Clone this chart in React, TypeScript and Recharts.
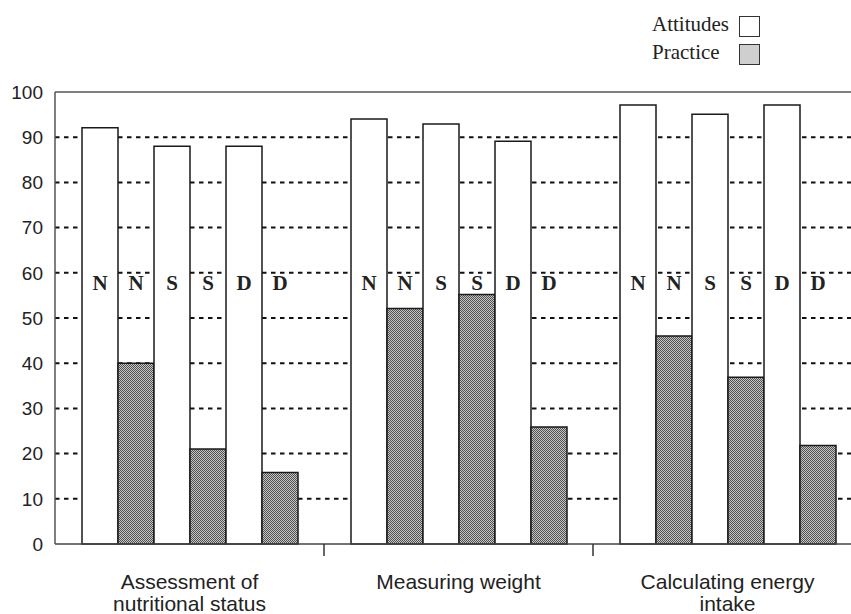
import React from 'react';
import {
  BarChart,
  Bar,
  XAxis,
  YAxis,
  CartesianGrid,
  ReferenceLine,
  LabelList,
} from 'recharts';

// Categories, split into the lines they are printed on
const categoryLines = [
  ['Assessment of', 'nutritional status'],
  ['Measuring weight'],
  ['Calculating energy', 'intake'],
];

// Attitudes / Practice per group (N, S, D)
const attitudesN = [92.1, 94.0, 97.1];
const practiceN = [40.0, 52.1, 46.0];
const attitudesS = [88.0, 92.9, 95.1];
const practiceS = [21.0, 55.2, 36.9];
const attitudesD = [88.0, 89.1, 97.1];
const practiceD = [15.8, 25.9, 21.8];

const yTicks = [0, 10, 20, 30, 40, 50, 60, 70, 80, 90, 100];
const gridValues = [10, 20, 30, 40, 50, 60, 70, 80, 90];
const letterLevel = 56.2;

const legendItems = [
  { name: 'Attitudes', fill: '#ffffff' },
  { name: 'Practice', fill: '#cfcfcf' },
];

const series = [
  { key: 'attN', letter: 'N', practice: false },
  { key: 'pracN', letter: 'N', practice: true },
  { key: 'attS', letter: 'S', practice: false },
  { key: 'pracS', letter: 'S', practice: true },
  { key: 'attD', letter: 'D', practice: false },
  { key: 'pracD', letter: 'D', practice: true },
];

const chartData = categoryLines.map((lines, i) => ({
  name: lines.join(' '),
  attN: attitudesN[i],
  pracN: practiceN[i],
  attS: attitudesS[i],
  pracS: practiceS[i],
  attD: attitudesD[i],
  pracD: practiceD[i],
}));

const SANS = "'Liberation Sans', Arial, Helvetica, sans-serif";
const SERIF = "'Liberation Serif', 'Times New Roman', Times, serif";

const CHART_W = 870;
const CHART_H = 614;
const MARGIN = { top: 92, right: 8, left: 0, bottom: 0 };
const Y_AXIS_W = 55;

const CategoryTick = (props: any) => {
  const { x, y, payload, index } = props;
  const idx = payload?.index ?? index ?? 0;
  const lines = categoryLines[idx] || [String(payload?.value ?? '')];
  const half =
    payload?.offset ??
    (CHART_W - MARGIN.left - MARGIN.right - Y_AXIS_W) / categoryLines.length / 2;
  return (
    <g>
      {idx > 0 && (
        <line x1={x - half} x2={x - half} y1={y} y2={y + 12} stroke="#333" strokeWidth={1.5} />
      )}
      {lines.map((line, li) => (
        <text
          key={li}
          x={x}
          y={y + 45 + li * 22}
          textAnchor="middle"
          fontFamily={SANS}
          fontSize={21}
          fill="#222"
        >
          {line}
        </text>
      ))}
    </g>
  );
};

// letter sits at a fixed value level inside / above each bar
const renderLetter = (letter: string) => (props: any) => {
  const box = props.viewBox && props.viewBox.height !== undefined ? props.viewBox : props;
  const { x, y, width, height } = box;
  const value = Number(props.value);
  if (!value || height === undefined) return null;
  const bottom = y + height;
  const ly = bottom - (letterLevel / value) * height;
  return (
    <text
      x={x + width / 2}
      y={ly}
      textAnchor="middle"
      fontFamily={SERIF}
      fontWeight="bold"
      fontSize={21}
      fill="#222"
    >
      {letter}
    </text>
  );
};

export default function App() {
  return (
    <div
      style={{
        position: 'fixed',
        left: 0,
        top: 0,
        width: 851,
        height: 614,
        overflow: 'hidden',
        background: '#fff',
      }}
    >
      <BarChart
        width={CHART_W}
        height={CHART_H}
        data={chartData}
        margin={MARGIN}
        barGap={0}
        barSize={36}
      >
        <defs>
          <pattern id="practiceHatch" width="2" height="2" patternUnits="userSpaceOnUse">
            <rect width="2" height="2" fill="#c6c6c6" />
            <rect width="1" height="1" fill="#505050" />
            <rect x="1" y="1" width="1" height="1" fill="#505050" />
          </pattern>
        </defs>
        <CartesianGrid
          vertical={false}
          horizontalValues={gridValues}
          stroke="#111"
          strokeWidth={2}
          strokeDasharray="4.5 4.5"
        />
        <XAxis
          dataKey="name"
          interval={0}
          tickLine={false}
          tickSize={0}
          tickMargin={0}
          height={70}
          axisLine={{ stroke: '#444', strokeWidth: 1.5 }}
          tick={<CategoryTick />}
        />
        <YAxis
          type="number"
          domain={[0, 100]}
          ticks={yTicks}
          width={Y_AXIS_W}
          tickLine={false}
          tickSize={6}
          tickMargin={6}
          axisLine={{ stroke: '#555', strokeWidth: 1.5 }}
          tick={{ fill: '#222', fontSize: 19, fontFamily: SANS }}
        />
        <ReferenceLine y={100} stroke="#555" strokeWidth={1.5} />
        {series.map((s) => (
          <Bar
            key={s.key}
            dataKey={s.key}
            fill={s.practice ? 'url(#practiceHatch)' : '#ffffff'}
            stroke="#1a1a1a"
            strokeWidth={1.5}
            isAnimationActive={false}
          >
            <LabelList dataKey={s.key} content={renderLetter(s.letter)} />
          </Bar>
        ))}
      </BarChart>
      <div
        style={{
          position: 'absolute',
          left: 652,
          top: 11,
          fontFamily: SERIF,
          fontSize: 21,
          color: '#222',
        }}
      >
        {legendItems.map((item) => (
          <div
            key={item.name}
            style={{ position: 'relative', height: 27.5, width: 110, lineHeight: '26px' }}
          >
            <span>{item.name}</span>
            <span
              style={{
                position: 'absolute',
                left: 87,
                top: 5,
                width: 19,
                height: 19,
                background: item.fill,
                border: '1.5px solid #333',
              }}
            />
          </div>
        ))}
      </div>
    </div>
  );
}
